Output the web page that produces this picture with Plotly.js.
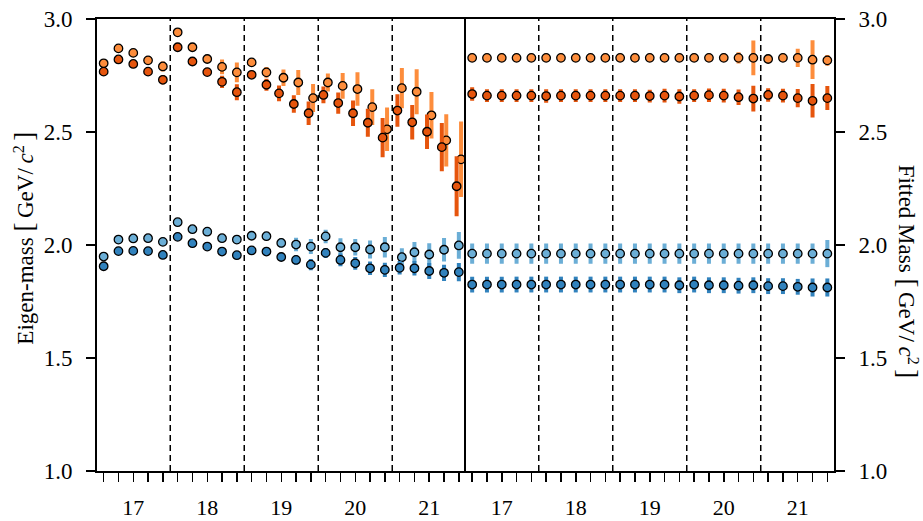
<!DOCTYPE html>
<html>
<head>
<meta charset="utf-8">
<script src="https://cdn.plot.ly/plotly-3.0.1.min.js"></script>
<style>
  html, body { margin: 0; padding: 0; background: #ffffff; }
  #chart { width: 923px; height: 521px; }
</style>
</head>
<body>
<div id="chart"></div>
<script>
// Group labels along each panel; every group holds five fit windows.
const groupLabels = ['17', '18', '19', '20', '21'];
const slotsPerGroup = 5;

// Left panel: eigen-masses of the two states (upper / lower level) per window.
const eigOrangeHi    = [2.804, 2.870, 2.850, 2.817, 2.790, 2.941, 2.875, 2.823, 2.788, 2.764, 2.808, 2.764, 2.740, 2.719, 2.650, 2.719, 2.704, 2.690, 2.610, 2.512, 2.694, 2.678, 2.574, 2.463, 2.379];
const eigOrangeHiErr = [0.008, 0.008, 0.008, 0.010, 0.022, 0.008, 0.008, 0.012, 0.033, 0.044, 0.015, 0.024, 0.037, 0.055, 0.062, 0.040, 0.057, 0.074, 0.079, 0.096, 0.089, 0.100, 0.103, 0.116, 0.167];
const eigOrangeLo    = [2.767, 2.821, 2.801, 2.767, 2.731, 2.875, 2.812, 2.765, 2.722, 2.676, 2.753, 2.709, 2.671, 2.624, 2.583, 2.664, 2.628, 2.583, 2.541, 2.475, 2.595, 2.543, 2.501, 2.433, 2.260];
const eigOrangeLoErr = [0.008, 0.008, 0.008, 0.010, 0.020, 0.008, 0.008, 0.012, 0.027, 0.035, 0.015, 0.027, 0.035, 0.039, 0.052, 0.037, 0.047, 0.056, 0.062, 0.087, 0.072, 0.076, 0.076, 0.107, 0.133];
const eigOrangeShift = [0, 0, 0, 0, 0, 0, 0, 0, 0, 0, 0, 0, 0.15, 0.15, 0.15, 0.15, 0.15, 0.15, 0.15, 0.15, 0.15, 0.15, 0.15, 0.15, 0.15];

const eigBlueHi    = [1.949, 2.024, 2.029, 2.030, 2.014, 2.101, 2.070, 2.059, 2.030, 2.024, 2.041, 2.039, 2.009, 2.002, 1.993, 2.038, 1.990, 1.990, 1.980, 1.990, 1.946, 1.968, 1.958, 1.979, 1.998];
const eigBlueHiErr = [0.008, 0.008, 0.008, 0.008, 0.008, 0.012, 0.008, 0.008, 0.010, 0.010, 0.015, 0.015, 0.020, 0.030, 0.033, 0.030, 0.040, 0.037, 0.040, 0.045, 0.040, 0.045, 0.050, 0.052, 0.059];
const eigBlueLo    = [1.906, 1.973, 1.974, 1.973, 1.956, 2.036, 2.008, 1.993, 1.971, 1.955, 1.976, 1.971, 1.947, 1.934, 1.913, 1.965, 1.934, 1.919, 1.897, 1.890, 1.899, 1.897, 1.885, 1.877, 1.880];
const eigBlueLoErr = [0.006, 0.006, 0.006, 0.006, 0.006, 0.008, 0.006, 0.006, 0.008, 0.008, 0.010, 0.010, 0.015, 0.020, 0.025, 0.022, 0.028, 0.028, 0.030, 0.032, 0.030, 0.032, 0.035, 0.036, 0.040];
const eigBlueShift = [0, 0, 0, 0, 0, 0, 0, 0, 0, 0, 0, 0, 0, 0, 0, 0, 0, 0, 0, 0, 0.15, 0, 0, 0, 0];

// Right panel: fitted masses of the same two states.
const fitOrangeHi    = [2.828, 2.828, 2.828, 2.828, 2.828, 2.828, 2.828, 2.828, 2.828, 2.828, 2.828, 2.828, 2.828, 2.828, 2.828, 2.828, 2.828, 2.828, 2.828, 2.828, 2.823, 2.828, 2.828, 2.820, 2.817];
const fitOrangeHiErr = [0.006, 0.006, 0.006, 0.006, 0.006, 0.006, 0.006, 0.006, 0.006, 0.006, 0.006, 0.006, 0.006, 0.006, 0.006, 0.006, 0.006, 0.008, 0.025, 0.077, 0.008, 0.008, 0.040, 0.086, 0.024];
const fitOrangeLo    = [2.668, 2.661, 2.661, 2.661, 2.661, 2.659, 2.661, 2.661, 2.661, 2.661, 2.661, 2.661, 2.659, 2.661, 2.657, 2.661, 2.663, 2.661, 2.654, 2.648, 2.664, 2.661, 2.650, 2.638, 2.650];
const fitOrangeLoErr = [0.030, 0.028, 0.028, 0.028, 0.028, 0.030, 0.028, 0.028, 0.028, 0.028, 0.028, 0.028, 0.028, 0.030, 0.032, 0.028, 0.030, 0.030, 0.034, 0.057, 0.030, 0.030, 0.040, 0.074, 0.053];

const fitBlueHi    = [1.962, 1.962, 1.962, 1.962, 1.962, 1.962, 1.962, 1.962, 1.962, 1.962, 1.962, 1.962, 1.962, 1.962, 1.962, 1.962, 1.962, 1.962, 1.962, 1.962, 1.962, 1.962, 1.962, 1.962, 1.962];
const fitBlueHiErr = [0.045, 0.045, 0.045, 0.045, 0.045, 0.045, 0.045, 0.045, 0.045, 0.045, 0.045, 0.045, 0.045, 0.045, 0.045, 0.045, 0.045, 0.045, 0.045, 0.045, 0.045, 0.045, 0.045, 0.045, 0.060];
const fitBlueLo    = [1.825, 1.825, 1.825, 1.825, 1.825, 1.825, 1.825, 1.825, 1.825, 1.825, 1.825, 1.825, 1.825, 1.825, 1.822, 1.825, 1.822, 1.822, 1.820, 1.822, 1.818, 1.818, 1.815, 1.812, 1.812];
const fitBlueLoErr = [0.035, 0.035, 0.035, 0.035, 0.035, 0.035, 0.035, 0.035, 0.035, 0.035, 0.035, 0.035, 0.035, 0.035, 0.035, 0.035, 0.035, 0.035, 0.035, 0.035, 0.035, 0.035, 0.035, 0.040, 0.040];

const yTicks = [1.0, 1.5, 2.0, 2.5, 3.0];

// Palette
const ORANGE_HI = '#fd8d3c';
const ORANGE_LO = '#e6550d';
const BLUE_HI = '#6baed6';
const BLUE_LO = '#3182bd';
const FONT = 'Liberation Serif';

const nSlots = groupLabels.length * slotsPerGroup;
const slots = Array.from({ length: nSlots }, (_, i) => i);
const tickText = slots.map(i => (i % slotsPerGroup === Math.floor(slotsPerGroup / 2)) ? groupLabels[Math.floor(i / slotsPerGroup)] : '');

function series(y, err, color, xaxis, yaxis, shift) {
  return {
    type: 'scatter',
    mode: 'markers',
    x: slots.map(i => i + (shift ? shift[i] : 0)),
    y: y,
    xaxis: xaxis,
    yaxis: yaxis,
    marker: { size: 8.5, color: color, line: { color: '#000000', width: 1.3 } },
    error_y: { type: 'data', array: err, visible: true, color: color, thickness: 4, width: 0 },
    showlegend: false,
    hoverinfo: 'x+y'
  };
}

const data = [
  series(eigBlueHi, eigBlueHiErr, BLUE_HI, 'x', 'y', eigBlueShift),
  series(eigBlueLo, eigBlueLoErr, BLUE_LO, 'x', 'y', null),
  series(eigOrangeHi, eigOrangeHiErr, ORANGE_HI, 'x', 'y', eigOrangeShift),
  series(eigOrangeLo, eigOrangeLoErr, ORANGE_LO, 'x', 'y', eigOrangeShift.map(s => -s)),
  series(fitBlueHi, fitBlueHiErr, BLUE_HI, 'x2', 'y2', null),
  series(fitBlueLo, fitBlueLoErr, BLUE_LO, 'x2', 'y2', null),
  series(fitOrangeHi, fitOrangeHiErr, ORANGE_HI, 'x2', 'y2', null),
  series(fitOrangeLo, fitOrangeLoErr, ORANGE_LO, 'x2', 'y2', null)
];

// Dashed separators between neighbouring groups in both panels.
const shapes = [];
['x', 'x2'].forEach(xr => {
  for (let g = 1; g < groupLabels.length; g++) {
    const xb = g * slotsPerGroup - 0.5;
    shapes.push({
      type: 'line', xref: xr, yref: 'paper', x0: xb, x1: xb, y0: 0, y1: 1,
      line: { color: '#000000', width: 1.5, dash: '6px,4px' }, layer: 'below'
    });
  }
});

const xCommon = {
  range: [-0.45, nSlots - 1 + 0.45],
  tickmode: 'array',
  tickvals: slots,
  ticktext: tickText,
  ticks: 'outside',
  ticklen: 9,
  tickwidth: 1.5,
  tickcolor: '#000000',
  showline: true,
  linewidth: 2,
  linecolor: '#000000',
  mirror: true,
  showgrid: false,
  zeroline: false,
  ticklabelstandoff: 7,
  tickfont: { family: FONT, size: 22, color: '#000000' }
};

const yCommon = {
  range: [1.0, 3.0],
  tickmode: 'array',
  tickvals: yTicks,
  ticktext: yTicks.map(v => v.toFixed(1)),
  ticks: 'outside',
  ticklen: 9,
  tickwidth: 1.5,
  tickcolor: '#000000',
  showline: true,
  linewidth: 2,
  linecolor: '#000000',
  showgrid: false,
  zeroline: false,
  ticklabelstandoff: 9,
  tickfont: { family: FONT, size: 23, color: '#000000' }
};

// Unit in square brackets, with thin spaces as in typeset math.
const THIN = '\u2009';
const unitText = '<span style="font-size:27px">[</span>' + THIN + 'GeV/' + THIN + '<i>c</i><sup>2</sup>' + THIN +
                 '<span style="font-size:27px">]</span>';

const layout = {
  width: 923,
  height: 521,
  margin: { l: 97, r: 89, t: 19, b: 50, pad: 0 },
  paper_bgcolor: '#ffffff',
  plot_bgcolor: '#ffffff',
  font: { family: FONT, size: 23, color: '#000000' },
  xaxis: Object.assign({}, xCommon, { domain: [0, 0.5], anchor: 'y' }),
  xaxis2: Object.assign({}, xCommon, { domain: [0.5, 1], anchor: 'y2' }),
  // the left panel's right edge is drawn by the right panel's mirrored axis line
  yaxis: Object.assign({}, yCommon, { anchor: 'x', side: 'left', mirror: false }),
  yaxis2: Object.assign({}, yCommon, { anchor: 'x2', side: 'right', mirror: true }),
  shapes: shapes,
  annotations: [
    {
      text: 'Eigen-mass ' + unitText,
      xref: 'paper', yref: 'paper', x: 0, y: 0.514,
      xanchor: 'center', yanchor: 'middle', xshift: -73,
      textangle: -90, showarrow: false,
      font: { family: FONT, size: 23, color: '#000000' }
    },
    {
      text: 'Fitted Mass ' + unitText,
      xref: 'paper', yref: 'paper', x: 1, y: 0.441,
      xanchor: 'center', yanchor: 'middle', xshift: 74,
      textangle: 90, showarrow: false,
      font: { family: FONT, size: 23, color: '#000000' }
    }
  ]
};

Plotly.newPlot('chart', data, layout, { displayModeBar: false, staticPlot: true });
</script>
</body>
</html>
